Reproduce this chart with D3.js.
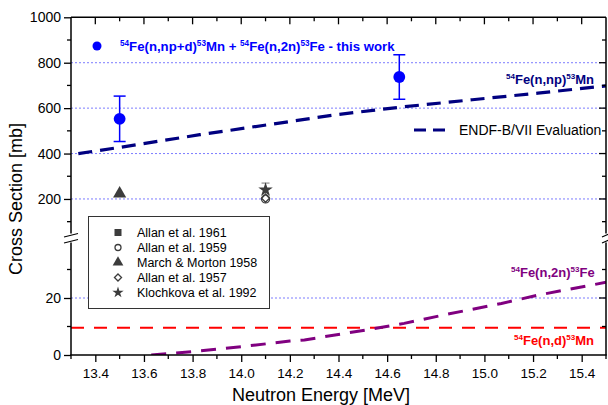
<!DOCTYPE html>
<html><head><meta charset="utf-8">
<script src="https://cdn.jsdelivr.net/npm/d3@7"></script>
<style>
body{margin:0;background:#fff;}
svg{font-family:"Liberation Sans",Arial,sans-serif;}
</style></head>
<body><svg id="c" width="608" height="405"></svg>
<script>
// ---- data ----
const xTicks = [13.4,13.6,13.8,14.0,14.2,14.4,14.6,14.8,15.0,15.2,15.4];
const yUpperTicks = [200,400,600,800,1000];
const yLowerTicks = [0,20];
const gridUpper = [200,400,600,800];
const gridLower = [20];

const thisWorkE = [13.5, 14.65];
const thisWorkV = [553, 737];
const thisWorkErr = [100, 98];

const endfNpE = [13.33,13.5,13.83,14.2,14.39,14.66,14.95,15.22,15.5];
const endfNpV = [400,427,483,541,571,605,637,666,698];

const endf2nE = [13.63,13.8,14.0,14.2,14.26,14.53,14.67,14.83,15.07,15.22,15.5];
const endf2nV = [0,1.2,2.9,4.9,5.3,9.0,11.1,14.0,18.1,21.0,25.5];

const endfNdE = [13.3,15.5];
const endfNdV = [9.6,9.6];

const marchE = [13.5], marchV = [228];
const allan59E = [14.1], allan59V = [200];
const allan57E = [14.1], allan57V = [203];
const klochE = [14.1], klochV = [240], klochErr = [30];

const legendLabels = ["Allan et al. 1961","Allan et al. 1959","March & Morton 1958","Allan et al. 1957","Klochkova et al. 1992"];
const legendSymbols = ["square","circleOpen","triangle","diamond","star"];

// ---- layout ----
const svg = d3.select("#c");
const L = 71, R = 606, T = 17.3, B = 355;
const breakY = 238;
const x = d3.scaleLinear().domain([13.3,15.5]).range([L,R]);
const yU = d3.scaleLinear().domain([40,1000]).range([235.3,T]);
const yL = d3.scaleLinear().domain([0,40]).range([B,241]);

// grid lines
const gridCol = "#5a5aff";
svg.append("g").selectAll("line").data(gridUpper).join("line")
  .attr("x1",L).attr("x2",R).attr("y1",d=>yU(d)).attr("y2",d=>yU(d))
  .attr("stroke",gridCol).attr("stroke-width",0.8).attr("stroke-dasharray","2,2");
svg.append("g").selectAll("line").data(gridLower).join("line")
  .attr("x1",L).attr("x2",R).attr("y1",d=>yL(d)).attr("y2",d=>yL(d))
  .attr("stroke",gridCol).attr("stroke-width",0.8).attr("stroke-dasharray","2,2");

// clip paths
svg.append("clipPath").attr("id","clipU").append("rect").attr("x",L).attr("y",T).attr("width",R-L).attr("height",breakY-T);
svg.append("clipPath").attr("id","clipL").append("rect").attr("x",L).attr("y",breakY).attr("width",R-L).attr("height",B-breakY);

// curves
const lineU = d3.line().x(d=>x(d[0])).y(d=>yU(d[1]));
const lineL = d3.line().x(d=>x(d[0])).y(d=>yL(d[1]));
svg.append("path").attr("d",lineU(d3.zip(endfNpE,endfNpV))).attr("clip-path","url(#clipU)")
  .attr("fill","none").attr("stroke","#000080").attr("stroke-width",3.2).attr("stroke-dasharray","14,8");
svg.append("path").attr("d",lineL(d3.zip(endfNdE,endfNdV))).attr("clip-path","url(#clipL)")
  .attr("fill","none").attr("stroke","#ff0000").attr("stroke-width",2).attr("stroke-dasharray","13,10");
svg.append("path").attr("d",lineL(d3.zip(endf2nE,endf2nV))).attr("clip-path","url(#clipL)")
  .attr("fill","none").attr("stroke","#800080").attr("stroke-width",3).attr("stroke-dasharray","15,10");

// other measurements
const grey = "#3c3c3c";
const sym = (type,size) => d3.symbol().type(type).size(size)();
klochE.forEach((e,i)=>{
  const cx = x(e);
  svg.append("line").attr("x1",cx).attr("x2",cx).attr("y1",yU(klochV[i]+klochErr[i])).attr("y2",yU(klochV[i]-klochErr[i]))
    .attr("stroke","#777").attr("stroke-width",1);
  svg.append("line").attr("x1",cx-4).attr("x2",cx+4).attr("y1",yU(klochV[i]+klochErr[i])).attr("y2",yU(klochV[i]+klochErr[i]))
    .attr("stroke","#777").attr("stroke-width",1);
});
allan59E.forEach((e,i)=>svg.append("circle").attr("cx",x(e)).attr("cy",yU(allan59V[i])).attr("r",4)
  .attr("fill","#fff").attr("stroke",grey).attr("stroke-width",1.3));
allan57E.forEach((e,i)=>svg.append("path").attr("d",sym(d3.symbolDiamond2,40))
  .attr("transform",`translate(${x(e)},${yU(allan57V[i])})`).attr("fill","none").attr("stroke",grey).attr("stroke-width",1.3));
klochE.forEach((e,i)=>svg.append("path").attr("d",sym(d3.symbolStar,65))
  .attr("transform",`translate(${x(e)},${yU(klochV[i])})`).attr("fill",grey));
marchE.forEach((e,i)=>svg.append("path").attr("d",sym(d3.symbolTriangle,75))
  .attr("transform",`translate(${x(e)},${yU(marchV[i])+1})`).attr("fill",grey));

// this work
const blue = "#0000ff";
thisWorkE.forEach((e,i)=>{
  const cx = x(e), top = yU(thisWorkV[i]+thisWorkErr[i]), bot = yU(thisWorkV[i]-thisWorkErr[i]);
  const g = svg.append("g").attr("stroke",blue).attr("stroke-width",1.5);
  g.append("line").attr("x1",cx).attr("x2",cx).attr("y1",top).attr("y2",bot);
  g.append("line").attr("x1",cx-6).attr("x2",cx+6).attr("y1",top).attr("y2",top);
  g.append("line").attr("x1",cx-6).attr("x2",cx+6).attr("y1",bot).attr("y2",bot);
  svg.append("circle").attr("cx",cx).attr("cy",yU(thisWorkV[i])).attr("r",5.9).attr("fill",blue);
});

// axes frame
const ax = svg.append("g").attr("stroke","#000").attr("stroke-width",1.5).attr("fill","none");
ax.append("line").attr("x1",L).attr("x2",R).attr("y1",T).attr("y2",T);
ax.append("line").attr("x1",L-0.75).attr("x2",R+0.75).attr("y1",B).attr("y2",B);
ax.append("line").attr("x1",L).attr("x2",L).attr("y1",T).attr("y2",233.5);
ax.append("line").attr("x1",L).attr("x2",L).attr("y1",242.5).attr("y2",B);
ax.append("line").attr("x1",R).attr("x2",R).attr("y1",T).attr("y2",233.5);
ax.append("line").attr("x1",R).attr("x2",R).attr("y1",242.5).attr("y2",B);
[L,R].forEach(px=>{
  const bw = px===L ? 7 : 4;
  ax.append("line").attr("x1",px-bw).attr("x2",px+bw).attr("y1",237).attr("y2",233.5).attr("stroke-width",1.2);
  ax.append("line").attr("x1",px-bw).attr("x2",px+bw).attr("y1",243).attr("y2",239.5).attr("stroke-width",1.2);
});

// x ticks
const xMinor = d3.range(13.3,15.55,0.1).map(v=>+v.toFixed(1));
svg.append("g").attr("transform",`translate(0,${B})`)
  .call(d3.axisBottom(x).tickValues(xTicks).tickFormat(d3.format(".1f")).tickSize(7).tickSizeOuter(0))
  .call(g=>{g.select(".domain").remove(); g.selectAll("line").attr("stroke-width",1.3);
    g.selectAll("text").attr("font-size",13.5).attr("fill","#000").attr("font-family","Liberation Sans, Arial").attr("dy","0.95em");});
svg.append("g").selectAll("line").data(xMinor.filter(v=>!xTicks.some(t=>Math.abs(t-v)<1e-6)))
  .join("line").attr("x1",d=>x(d)).attr("x2",d=>x(d)).attr("y1",B).attr("y2",B+4).attr("stroke","#000").attr("stroke-width",1.3);
svg.append("g").selectAll("line").data(xMinor.filter(v=>v>13.3&&v<15.5))
  .join("line").attr("x1",d=>x(d)).attr("x2",d=>x(d)).attr("y1",T).attr("y2",d=>xTicks.some(t=>Math.abs(t-d)<1e-6)?T+7:T+4)
  .attr("stroke","#000").attr("stroke-width",1.3);

// y ticks
const yUMinor = [100,300,500,700,900];
const yLMinor = [10,30];
[[yU,yUpperTicks],[yL,yLowerTicks]].forEach(([sc,tv])=>{
  svg.append("g").attr("transform",`translate(${L},0)`)
    .call(d3.axisLeft(sc).tickValues(tv).tickFormat(d3.format("d")).tickSize(7).tickSizeOuter(0))
    .call(g=>{g.select(".domain").remove(); g.selectAll("line").attr("stroke-width",1.3);
      g.selectAll("text").attr("font-size",14).attr("fill","#000").attr("font-family","Liberation Sans, Arial");});
});
const yMinPix = yUMinor.map(v=>yU(v)).concat(yLMinor.map(v=>yL(v)));
const yMajPix = yUpperTicks.map(v=>yU(v)).concat(yLowerTicks.map(v=>yL(v)));
svg.append("g").selectAll("line").data(yMinPix).join("line")
  .attr("x1",L-4).attr("x2",L).attr("y1",d=>d).attr("y2",d=>d).attr("stroke","#000").attr("stroke-width",1.3);
svg.append("g").selectAll("line").data(yMinPix.map(p=>[p,4]).concat(yMajPix.map(p=>[p,7])).filter(d=>d[0]>T+1&&d[0]<B-1)).join("line")
  .attr("x1",d=>R-d[1]).attr("x2",R).attr("y1",d=>d[0]).attr("y2",d=>d[0]).attr("stroke","#000").attr("stroke-width",1.3);

// axis titles
svg.append("text").attr("x",321).attr("y",401).attr("text-anchor","middle").attr("font-size",18).text("Neutron Energy [MeV]");
svg.append("text").attr("transform","translate(22,199) rotate(-90)").attr("text-anchor","middle").attr("font-size",18).text("Cross Section [mb]");

// labels with superscripts
function isoLabel(xp, yp, parts, color, size){
  const t = svg.append("text").attr("x",xp).attr("y",yp).attr("fill",color).attr("font-weight","bold").attr("font-size",size);
  parts.forEach(p=>{
    if(p.sup) t.append("tspan").attr("font-size",size*0.62).attr("dy",-size*0.38).text(p.sup);
    else t.append("tspan").attr("dy",p.after?size*0.38:0).text(p.t);
  });
  return t;
}
function build(str){
  const out=[]; const re=/\^(\d+)|([^^]+)/g; let m, after=false;
  while((m=re.exec(str))){ if(m[1]){out.push({sup:m[1]}); after=true;} else {out.push({t:m[2],after}); after=false;} }
  return out;
}
svg.append("circle").attr("cx",97).attr("cy",46).attr("r",4.5).attr("fill",blue);
isoLabel(120,51,build("^54Fe(n,np+d)^53Mn + ^54Fe(n,2n)^53Fe - this work"),blue,13.2);
isoLabel(506,84,build("^54Fe(n,np)^53Mn"),"#000080",13);
isoLabel(511,277,build("^54Fe(n,2n)^53Fe"),"#800080",13);
isoLabel(514,345,build("^54Fe(n,d)^53Mn"),"#ff0000",13);

// ENDF legend
svg.append("line").attr("x1",414).attr("x2",447).attr("y1",130).attr("y2",130)
  .attr("stroke","#000080").attr("stroke-width",3.2).attr("stroke-dasharray","12,7");
svg.append("text").attr("x",459).attr("y",135).attr("font-size",14).attr("fill","#000").text("ENDF-B/VII Evaluation");

// measurements legend box
const lg = svg.append("g");
lg.append("rect").attr("x",88.5).attr("y",216.5).attr("width",181).attr("height",92).attr("fill","#fff").attr("stroke","#333").attr("stroke-width",1);
legendLabels.forEach((lab,i)=>{
  const yy = 232.5 + i*15;
  const s = legendSymbols[i];
  const g = lg.append("g").attr("transform",`translate(118,${yy})`);
  if(s==="square") g.append("rect").attr("x",-3.5).attr("y",-3.5).attr("width",7).attr("height",7).attr("fill",grey);
  if(s==="circleOpen") g.append("circle").attr("r",3).attr("fill","#fff").attr("stroke",grey).attr("stroke-width",1.3);
  if(s==="triangle") g.append("path").attr("d",sym(d3.symbolTriangle,50)).attr("fill",grey);
  if(s==="diamond") g.append("path").attr("d",sym(d3.symbolDiamond2,32)).attr("fill","none").attr("stroke",grey).attr("stroke-width",1.3);
  if(s==="star") g.append("path").attr("d",sym(d3.symbolStar,40)).attr("fill",grey);
  lg.append("text").attr("x",137).attr("y",yy+4.5).attr("font-size",12.5).attr("fill","#000").text(lab);
});
</script></body></html>
